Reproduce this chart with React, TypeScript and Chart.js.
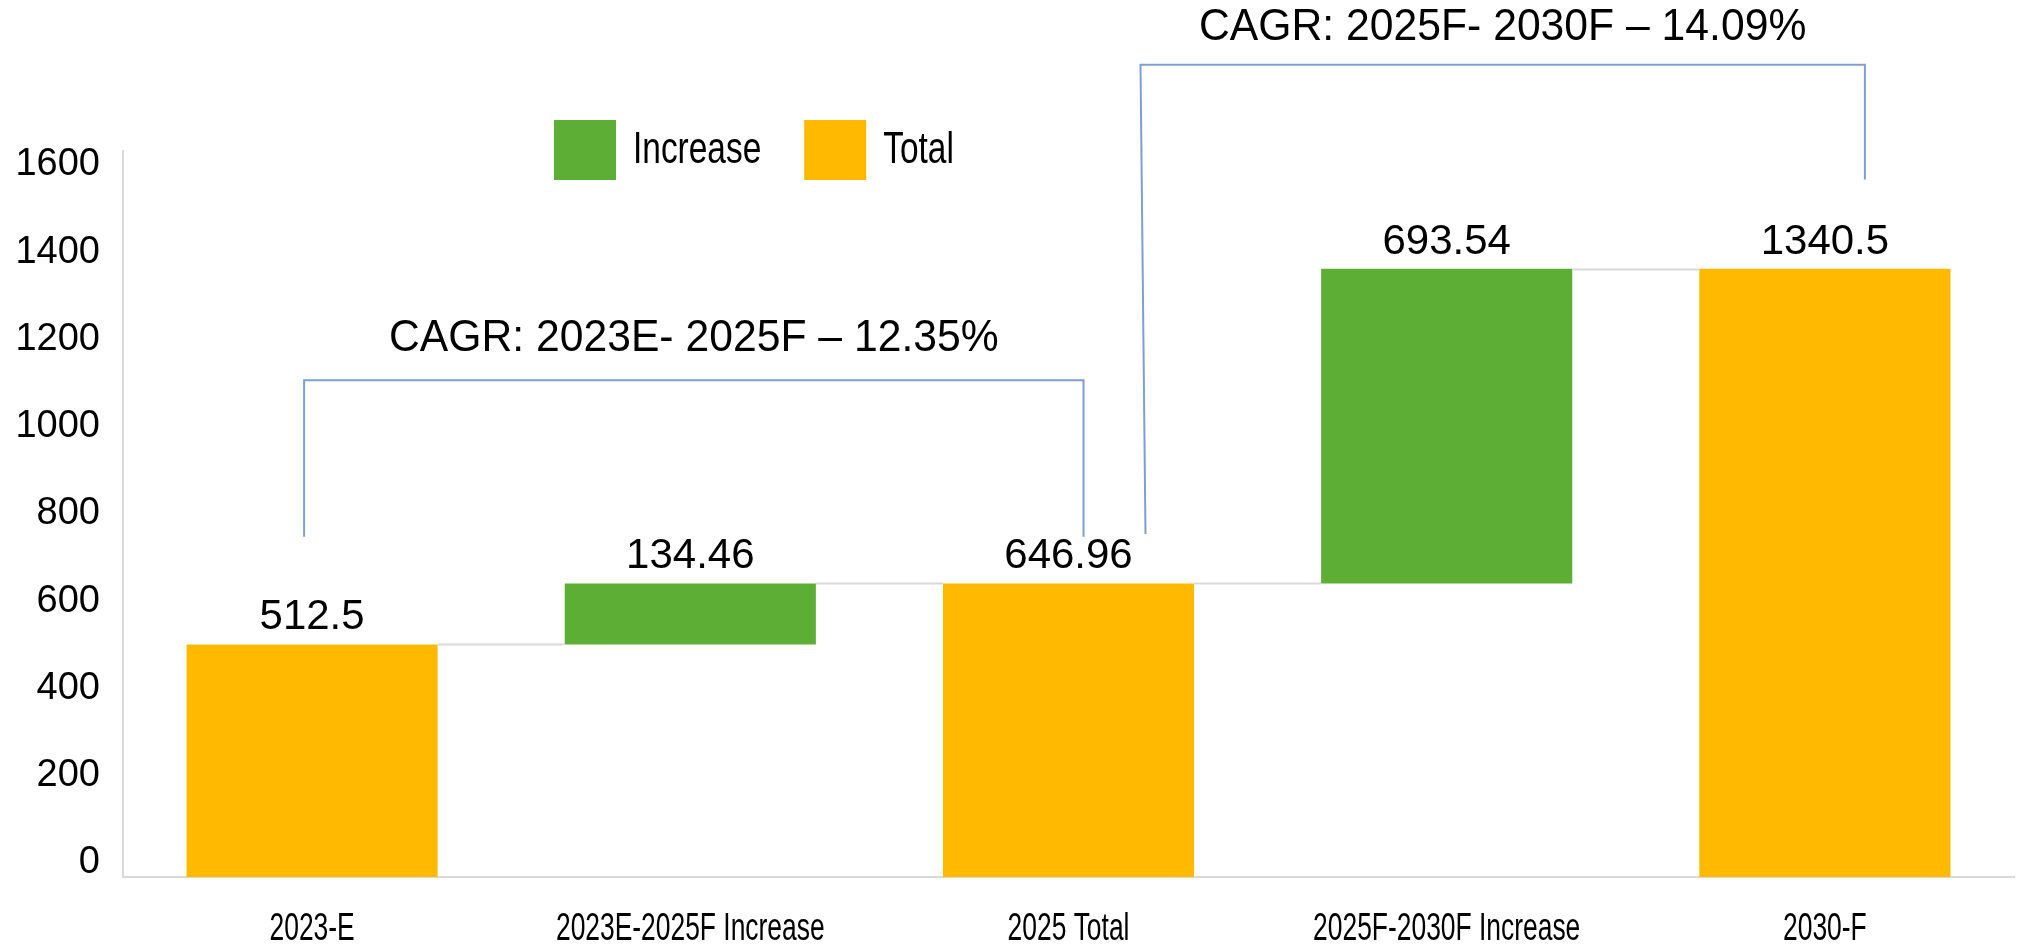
import React, { useEffect, useRef } from 'react';
import { Chart, registerables } from 'chart.js';

Chart.register(...registerables);

// ---------- data ----------
const categories = ['2023-E', '2023E-2025F Increase', '2025 Total', '2025F-2030F Increase', '2030-F'];
const values = [512.5, 134.46, 646.96, 693.54, 1340.5];
const kinds = ['total', 'increase', 'total', 'increase', 'total'];
const yTickValues = [0, 200, 400, 600, 800, 1000, 1200, 1400, 1600];
const seriesNames = ['Increase', 'Total'];
const cagrLabels = ['CAGR: 2023E- 2025F – 12.35%', 'CAGR: 2025F- 2030F – 14.09%'];

// ---------- derived (waterfall ranges) ----------
let running = 0;
const ranges: [number, number][] = values.map((v, i) => {
  if (kinds[i] === 'total') {
    running = v;
    return [0, v];
  }
  const r: [number, number] = [running, running + v];
  running += v;
  return r;
});
const increaseData = ranges.map((r, i) => (kinds[i] === 'increase' ? r : null));
const totalData = ranges.map((r, i) => (kinds[i] === 'total' ? r : null));

const GREEN = '#5DAE34';
const ORANGE = '#FFBA00';
const FONT = '"Liberation Sans", Arial, Helvetica, sans-serif';
const BRACKET = '#7F9ED4';
const AXIS = '#D9D9D9';
// the printed axis labels in the original are spaced slightly tighter than the bar scale
const LABEL_AXIS_MAX = 1664;

function condensed(ctx: CanvasRenderingContext2D, text: string, x: number, y: number, sx: number) {
  ctx.save();
  ctx.translate(x, y);
  ctx.scale(sx, 1);
  ctx.fillText(text, 0, 0);
  ctx.restore();
}

const overlayPlugin = {
  id: 'overlay',
  afterDatasetsDraw(chart: any) {
    const ctx: CanvasRenderingContext2D = chart.ctx;
    const xs = chart.scales.x;
    const ys = chart.scales.y;
    const elemAt = (i: number) => {
      const dsIndex = kinds[i] === 'increase' ? 0 : 1;
      return chart.getDatasetMeta(dsIndex).data[i];
    };

    // connectors
    ctx.save();
    ctx.strokeStyle = AXIS;
    ctx.lineWidth = 2;
    for (let i = 0; i < values.length - 1; i++) {
      const a = elemAt(i);
      const b = elemAt(i + 1);
      const y = Math.round(ys.getPixelForValue(ranges[i][1])) + 0.5;
      ctx.beginPath();
      ctx.moveTo(a.x + a.width / 2, y);
      ctx.lineTo(b.x - b.width / 2, y);
      ctx.stroke();
    }
    ctx.restore();

    // value labels
    ctx.save();
    ctx.fillStyle = '#000';
    ctx.font = `42px ${FONT}`;
    ctx.textAlign = 'center';
    ctx.textBaseline = 'alphabetic';
    values.forEach((v, i) => {
      const el = elemAt(i);
      const top = Math.min(el.y, el.base);
      ctx.fillText(String(v), el.x, top - 15);
    });
    ctx.restore();

    // x category labels (condensed)
    ctx.save();
    ctx.fillStyle = '#000';
    ctx.font = `38px ${FONT}`;
    ctx.textAlign = 'center';
    ctx.textBaseline = 'middle';
    categories.forEach((c, i) => {
      condensed(ctx, c, xs.getPixelForValue(i), chart.chartArea.bottom + 53, 0.695);
    });
    ctx.restore();

    // legend
    ctx.save();
    ctx.font = `44px ${FONT}`;
    ctx.textBaseline = 'middle';
    ctx.textAlign = 'left';
    let lx = 554;
    const ly = 120;
    const colors = [GREEN, ORANGE];
    seriesNames.forEach((n, k) => {
      ctx.fillStyle = colors[k];
      ctx.fillRect(lx, ly, 62, 60);
      lx += 62 + 17;
      ctx.fillStyle = '#000';
      condensed(ctx, n, lx, ly + 31, 0.76);
      lx += ctx.measureText(n).width * 0.76 + 43;
    });
    ctx.restore();

    // CAGR brackets
    const brackets = [
      { from: 0, to: 2, dxL: -8, dxR: 15, slant: 0, top: 1095, botL: 750, botR: 750, textUp: 41 },
      { from: 2, to: 4, dxL: 72, dxR: 40, slant: 5, top: 1790, botL: 756, botR: 1537, textUp: 37 },
    ];
    ctx.save();
    ctx.strokeStyle = BRACKET;
    ctx.lineWidth = 2;
    brackets.forEach((b, k) => {
      const xl = xs.getPixelForValue(b.from) + b.dxL;
      const xr = xs.getPixelForValue(b.to) + b.dxR;
      const yt = ys.getPixelForValue(b.top);
      ctx.beginPath();
      ctx.moveTo(xl + b.slant, ys.getPixelForValue(b.botL));
      ctx.lineTo(xl, yt);
      ctx.lineTo(xr, yt);
      ctx.lineTo(xr, ys.getPixelForValue(b.botR));
      ctx.stroke();
      ctx.fillStyle = '#000';
      ctx.font = `44px ${FONT}`;
      ctx.textAlign = 'center';
      ctx.textBaseline = 'middle';
      condensed(ctx, cagrLabels[k], (xl + xr) / 2, yt - b.textUp, 0.97);
    });
    ctx.restore();
  },
};

export default function App() {
  const ref = useRef<HTMLCanvasElement | null>(null);
  useEffect(() => {
    if (!ref.current) return;
    const chart = new Chart(ref.current, {
      type: 'bar',
      data: {
        labels: categories,
        datasets: [
          {
            label: seriesNames[0],
            data: increaseData as any,
            backgroundColor: GREEN,
            grouped: false,
            barPercentage: 0.664,
            categoryPercentage: 1,
            yAxisID: 'y',
          } as any,
          {
            label: seriesNames[1],
            data: totalData as any,
            backgroundColor: ORANGE,
            grouped: false,
            barPercentage: 0.664,
            categoryPercentage: 1,
            yAxisID: 'y',
          } as any,
        ],
      },
      options: {
        animation: false,
        responsive: false,
        devicePixelRatio: 1,
        layout: { padding: { top: 151, right: 4, left: 0, bottom: 0 } },
        plugins: { legend: { display: false }, tooltip: { enabled: false } },
        scales: {
          x: {
            grid: { display: false, drawTicks: false },
            border: { display: true, color: AXIS, width: 2 },
            ticks: { display: false },
            afterFit: (s: any) => {
              s.height = 72;
            },
          },
          y: {
            display: false,
            min: 0,
            max: 1600,
          },
          yLabels: {
            axis: 'y',
            position: 'left',
            min: 0,
            max: LABEL_AXIS_MAX,
            grid: { display: false, drawTicks: false },
            border: { display: true, color: AXIS, width: 2 },
            afterBuildTicks: (s: any) => {
              s.ticks = yTickValues.map((v) => ({ value: v }));
            },
            ticks: {
              color: '#000',
              font: { size: 38, family: FONT },
              padding: 23,
              labelOffset: -14,
              callback: (v: any) => String(v),
            },
            afterFit: (s: any) => {
              s.width = 123;
            },
          },
        },
      } as any,
      plugins: [overlayPlugin],
    });
    return () => chart.destroy();
  }, []);
  return (
    <div style={{ position: 'fixed', left: 0, top: 0, width: 2018, height: 949, background: '#fff' }}>
      <canvas ref={ref} width={2018} height={949} style={{ display: 'block' }} />
    </div>
  );
}
